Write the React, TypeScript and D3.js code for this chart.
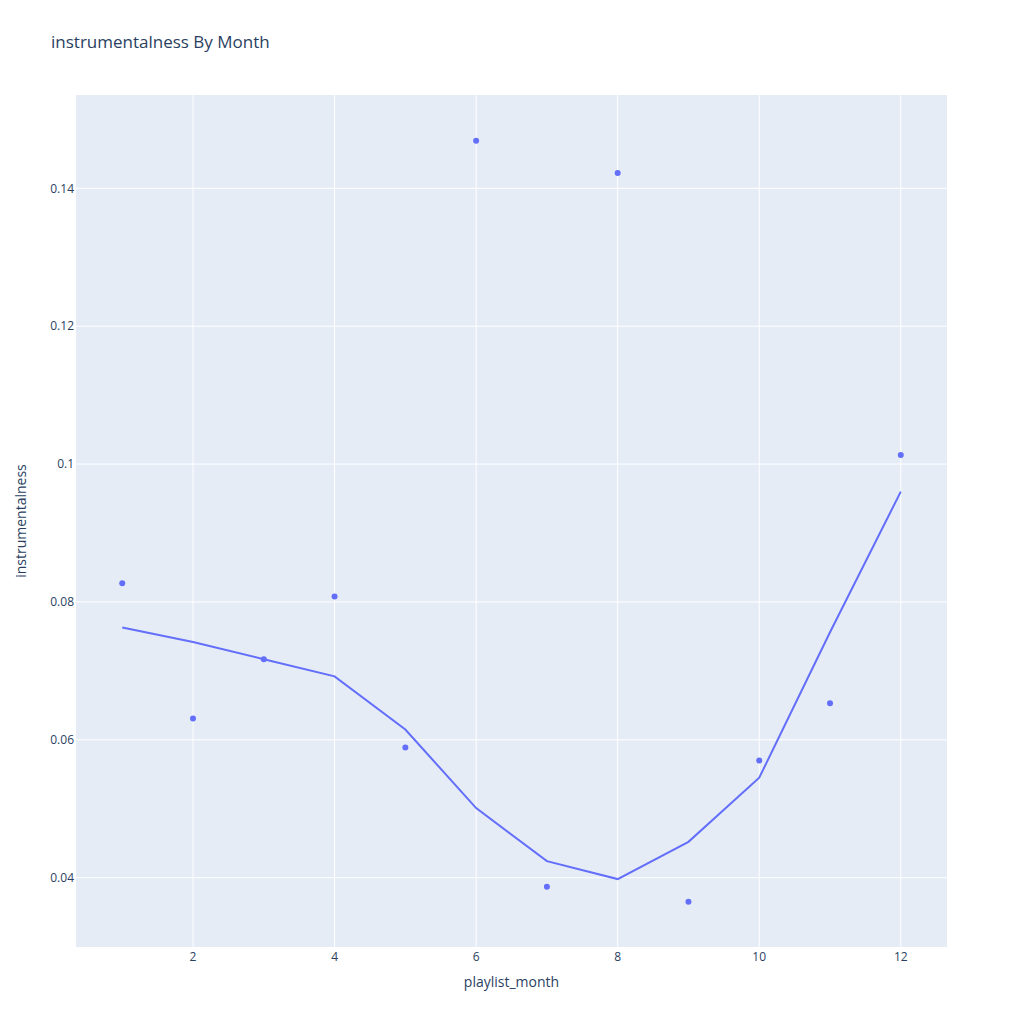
import React, { useEffect } from "react";
import * as d3 from "d3";

const months = [1, 2, 3, 4, 5, 6, 7, 8, 9, 10, 11, 12];
const instrumentalness = [0.0827, 0.0631, 0.0717, 0.0808, 0.0589, 0.1469, 0.0387, 0.1422, 0.0365, 0.057, 0.0653, 0.1013];
const trend = [0.0763, 0.0742, 0.0717, 0.0692, 0.0615, 0.0501, 0.0424, 0.0398, 0.0452, 0.0545, 0.0756, 0.096];
const xTicks = [2, 4, 6, 8, 10, 12];
const yTicks = [0.04, 0.06, 0.08, 0.1, 0.12, 0.14];

const W = 1024, H = 1024;
const L = 76, R = 947, T = 95, B = 947;
const FONT = '"Open Sans", verdana, arial, sans-serif';
const TXT = "#2a3f5f";
const COLOR = "#636efa";

export default function App() {
  useEffect(() => {
    document.body.style.margin = "0";
  }, []);
  const x = d3.scaleLinear().domain([0.3466, 12.653]).range([L, R]);
  const y = d3.scaleLinear().domain([0.02995, 0.15353]).range([B, T]);
  const line = d3
    .line<number>()
    .x((_, i) => x(months[i]))
    .y((d) => y(d));
  return (
    <svg width={W} height={H} style={{ position: "absolute", left: 0, top: 0, background: "#fff" }} fontFamily={FONT}>
      <rect x={L} y={T} width={R - L} height={B - T} fill="#e5ecf6" />
      {xTicks.map((t) => (
        <line key={"gx" + t} x1={x(t)} x2={x(t)} y1={T} y2={B} stroke="#fff" strokeWidth={1} />
      ))}
      {yTicks.map((t) => (
        <line key={"gy" + t} x1={L} x2={R} y1={y(t)} y2={y(t)} stroke="#fff" strokeWidth={1} />
      ))}
      <path d={line(trend) || ""} fill="none" stroke={COLOR} strokeWidth={2} />
      {instrumentalness.map((v, i) => (
        <circle key={"p" + i} cx={x(months[i])} cy={y(v)} r={3} fill={COLOR} />
      ))}
      {xTicks.map((t) => (
        <text key={"tx" + t} x={x(t)} y={B + 14} textAnchor="middle" fontSize={12} fill={TXT}>
          {t}
        </text>
      ))}
      {yTicks.map((t) => (
        <text key={"ty" + t} x={L - 2} y={y(t)} dy="0.36em" textAnchor="end" fontSize={12} fill={TXT}>
          {d3.format("~g")(t)}
        </text>
      ))}
      <text x={(L + R) / 2} y={987} textAnchor="middle" fontSize={14} fill={TXT}>
        playlist_month
      </text>
      <text
        transform={`translate(26,${(T + B) / 2}) rotate(-90)`}
        textAnchor="middle"
        fontSize={14}
        fill={TXT}
      >
        instrumentalness
      </text>
      <text x={51} y={48} fontSize={17} fill={TXT}>
        instrumentalness By Month
      </text>
    </svg>
  );
}
